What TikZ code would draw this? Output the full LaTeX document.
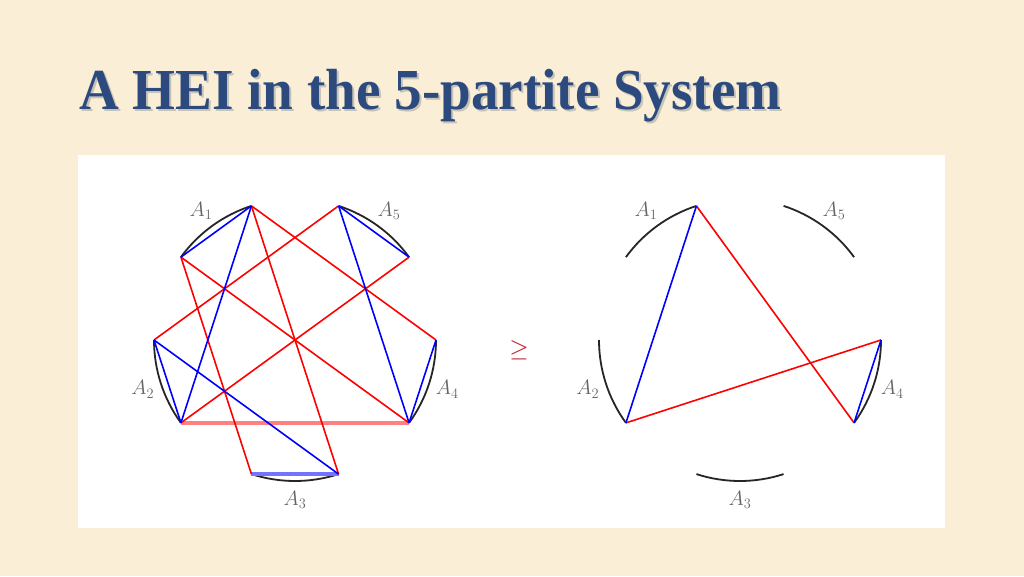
\documentclass[tikz,border=0pt]{standalone}
\usepackage{fontspec}
\setmainfont{Liberation Serif}
\usetikzlibrary{calc}

\definecolor{parchment}{HTML}{FAEFD6}
\definecolor{titleblue}{HTML}{2C4A7E}
\definecolor{geqred}{HTML}{C0141E}

\newcommand{\titlestring}{\scalebox{0.95}[1]{A HEI in the 5-partite System}}

\begin{document}
\begin{tikzpicture}[
        x=1pt, y=1pt,
        partarc/.style = {line width=1.8, black!85},
        redline/.style = {line width=1.6, red},
        blueline/.style = {line width=1.6, blue},
        fatred/.style = {line width=4, red!50},
        fatblue/.style = {line width=3.6, blue!55},
        partlabel/.style = {text=black!60, font=\fontsize{22}{26}\selectfont},
        titletext/.style = {anchor=base west, inner sep=0pt, font=\fontsize{58}{64}\selectfont\bfseries}
    ]

    % page and panel
    \fill[parchment] (0,0) rectangle (1024,576);
    \useasboundingbox (0,0) rectangle (1024,576);
    \fill[white] (78,48) rectangle (945,421);

    % title with its shadow
    \node[titletext, text=black!35, opacity=0.6] (titleshadow) at (81,464) {\titlestring};
    \node[titletext, text=titleblue] (title) at (79,466) {\titlestring};

    % the two circles of parties
    \coordinate (cL) at (295,236);
    \coordinate (cR) at (740,236);

    \foreach \side in {L,R} {
        \foreach \i in {1,...,5} {
            \pgfmathsetmacro\s{36+72*\i}
            \pgfmathsetmacro\e{\s+36}
            \pgfmathsetmacro\m{\s+18}
            \coordinate (\side\i s) at ($(c\side)+(\s:141)$);
            \coordinate (\side\i e) at ($(c\side)+(\e:141)$);
            \draw[partarc] (\side\i s) arc[start angle=\s, end angle=\e, radius=141];
            \node[partlabel] (\side lab\i) at ($(c\side)+(\m:160)$) {$A_{\i}$};
        }
    }

    % left side
    \draw[fatred] (L2e) -- (L4s);
    \draw[fatblue] (L3s) -- (L3e);
    \draw[redline] (L1s) -- (L4e);
    \draw[redline] (L1s) -- (L3e);
    \draw[redline] (L5e) -- (L2s);
    \draw[redline] (L5s) -- (L2e);
    \draw[redline] (L1e) -- (L4s);
    \draw[redline] (L1e) -- (L3s);
    \draw[blueline] (L1s) -- (L1e);
    \draw[blueline] (L1s) -- (L2e);
    \draw[blueline] (L2s) -- (L2e);
    \draw[blueline] (L2s) -- (L3e);
    \draw[blueline] (L5e) -- (L5s);
    \draw[blueline] (L5e) -- (L4s);
    \draw[blueline] (L4e) -- (L4s);

    % right side
    \draw[redline] (R1s) -- (R4s);
    \draw[redline] (R2e) -- (R4e);
    \draw[blueline] (R1s) -- (R2e);
    \draw[blueline] (R4e) -- (R4s);

    \node[text=geqred, font=\fontsize{26}{30}\selectfont] (geq) at (519,226) {$\geq$};
\end{tikzpicture}
\end{document}
